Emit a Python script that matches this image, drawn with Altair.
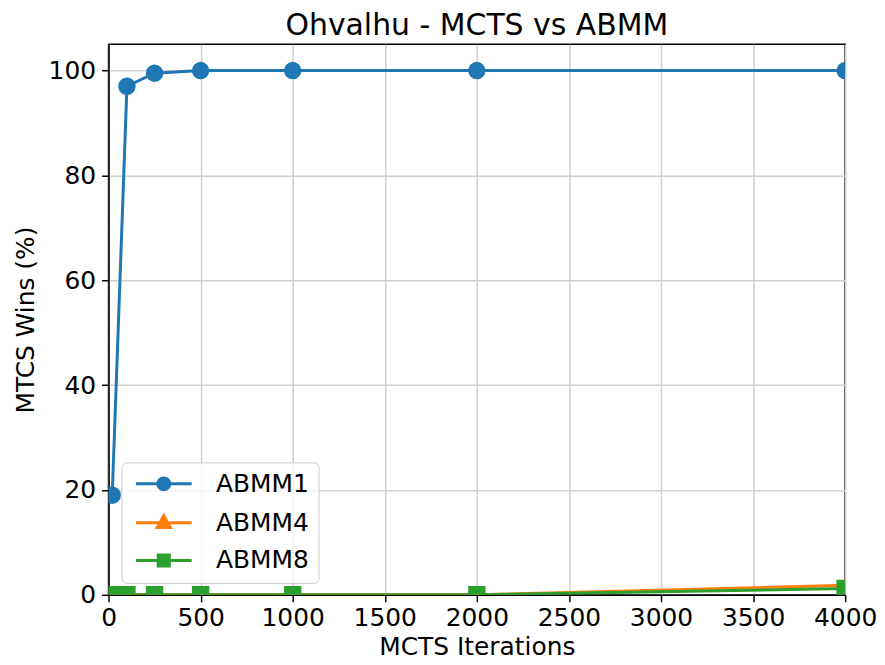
import altair as alt
import pandas as pd

iterations = [20, 100, 250, 500, 1000, 2000, 4000]
abmm1 = [19.0, 97.0, 99.5, 100.0, 100.0, 100.0, 100.0]
abmm4 = [0.0, 0.0, 0.0, 0.0, 0.0, 0.0, 1.8]
abmm8 = [0.0, 0.0, 0.0, 0.0, 0.0, 0.0, 1.2]
series_names = ["ABMM1", "ABMM4", "ABMM8"]
colors = ["#1f77b4", "#ff7f0e", "#2ca02c"]
shapes = ["circle", "triangle-up", "square"]

rows = []
for name, vals in zip(series_names, [abmm1, abmm4, abmm8]):
    for it, v in zip(iterations, vals):
        rows.append({"iter": it, "wins": v, "series": name})
df = pd.DataFrame(rows)

FONT = "DejaVu Sans"

# legend-only symbols: line stub with the marker in its middle
leg_circle = "M-1,0H7M2.15,0A0.85,0.85,0,1,1,3.85,0A0.85,0.85,0,1,1,2.15,0Z"
leg_tri = "M-1,0H7M3,-1L3.95,0.7L2.05,0.7Z"
leg_sq = "M-1,0H7M2.2,-0.8H3.8V0.8H2.2Z"
legend_shapes = [leg_circle, leg_tri, leg_sq]

x = alt.X(
    "iter:Q",
    title="MCTS Iterations",
    scale=alt.Scale(domain=[0, 4000], nice=False, zero=False),
    axis=alt.Axis(values=[0, 500, 1000, 1500, 2000, 2500, 3000, 3500, 4000], format="d"),
)
y = alt.Y(
    "wins:Q",
    title="MTCS Wins (%)",
    scale=alt.Scale(domain=[0, 105], nice=False),
    axis=alt.Axis(values=[0, 20, 40, 60, 80, 100]),
)


def make_legend():
    return alt.Legend(
        title=None,
        orient="none",
        legendX=13,
        legendY=420,
        symbolSize=196,
        symbolStrokeWidth=3,
        symbolOpacity=1,
        labelOffset=61,
        labelFontSize=25,
        labelFont=FONT,
        labelColor="black",
        rowPadding=12,
        padding=9,
        strokeColor="#cccccc",
        fillColor="rgba(255,255,255,0.8)",
        cornerRadius=5,
        labelLimit=300,
    )


# colour scale for the drawn marks (domain listed in another order so that
# its hidden legend is kept apart from the visible one)
mark_color_scale = alt.Scale(domain=series_names[::-1], range=colors[::-1])
color_noleg = alt.Color("series:N", scale=mark_color_scale, legend=None)

lines = alt.Chart(df).mark_line(strokeWidth=3, clip=True).encode(
    x=x, y=y, color=color_noleg, detail="series:N"
)

point_layers = []
for name, shp in zip(series_names, shapes):
    point_layers.append(
        alt.Chart(df)
        .transform_filter(alt.datum.series == name)
        .mark_point(filled=True, size=306, opacity=1, clip=True, shape=shp)
        .encode(x=x, y=y, color=color_noleg)
    )

# legend-only layer: no rows survive the filter, it only carries the legend
legend_layer = (
    alt.Chart(df)
    .transform_filter("datum.iter < 0")
    .mark_point(opacity=1)
    .encode(
        x=x,
        y=y,
        fill=alt.Fill("series:N", scale=alt.Scale(domain=series_names, range=colors),
                      legend=make_legend()),
        stroke=alt.Stroke("series:N", scale=alt.Scale(domain=series_names, range=colors),
                          legend=make_legend()),
        shape=alt.Shape("series:N", scale=alt.Scale(domain=series_names, range=legend_shapes),
                        legend=make_legend()),
    )
)

chart = (
    alt.layer(lines, *point_layers, legend_layer)
    .properties(
        width=740,
        height=553,
        title=alt.Title("Ohvalhu - MCTS vs ABMM", fontSize=30, font=FONT,
                        fontWeight="normal", color="black", offset=0, dy=-3),
        padding={"left": 5, "top": 2, "right": 0, "bottom": 0},
    )
    .configure_view(stroke="black", strokeWidth=1.5)
    .configure_axis(
        labelFont=FONT,
        labelFontSize=25,
        labelColor="black",
        titleFont=FONT,
        titleFontSize=25,
        titleFontWeight="normal",
        titleColor="black",
        domainColor="black",
        domainWidth=1.5,
        tickColor="black",
        tickSize=7,
        tickWidth=1.5,
        labelPadding=6,
        gridColor="#cfcfcf",
        gridWidth=1.5,
    )
    .configure_axisY(titlePadding=10)
    .configure_axisX(titlePadding=4, labelPadding=4, labelFlush=False)
)

chart.save("out.html", embed_options={"renderer": "svg", "actions": False})
